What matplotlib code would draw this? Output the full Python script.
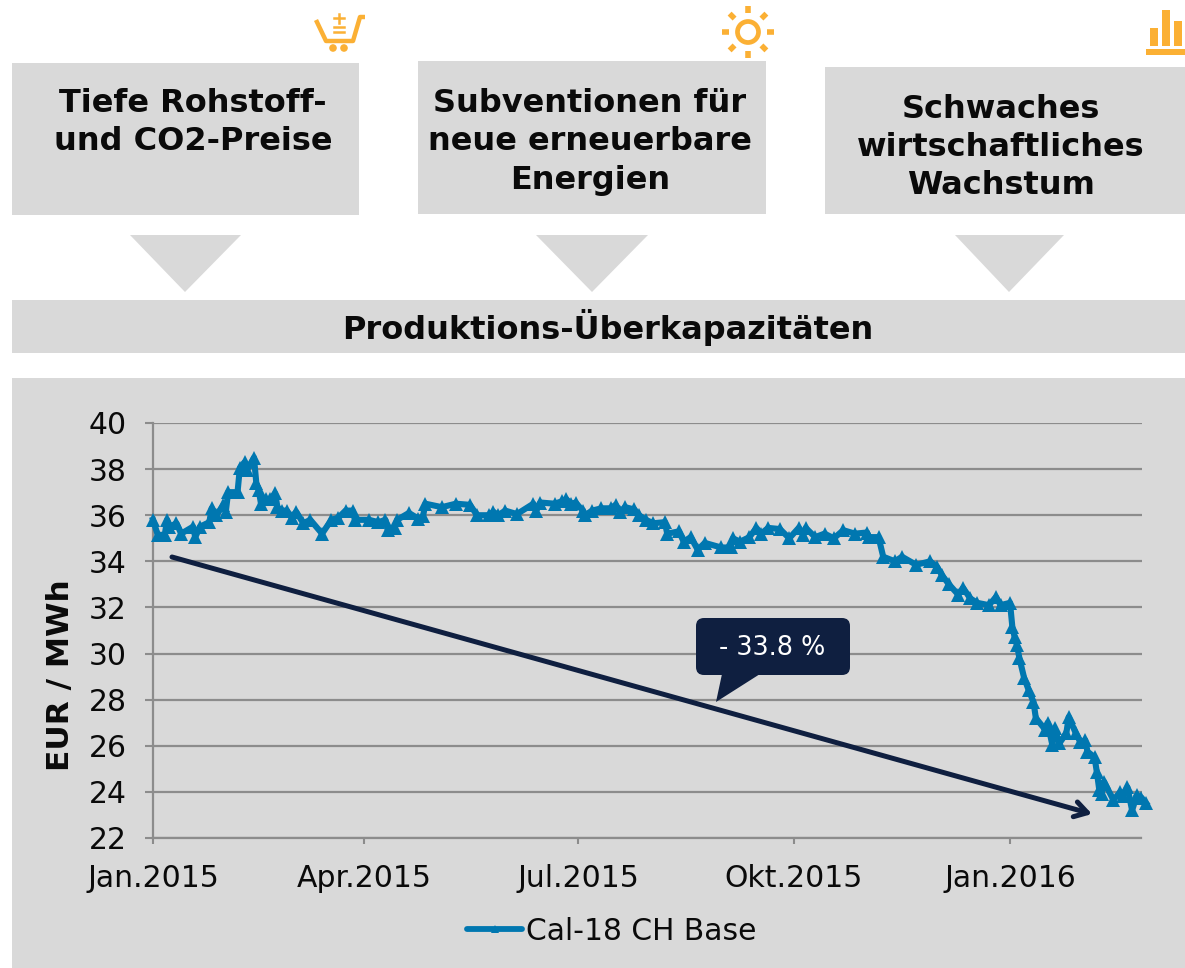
import matplotlib
matplotlib.use("Agg")
import matplotlib.pyplot as plt
import matplotlib.dates as mdates
import numpy as np
import pandas as pd
from matplotlib.patches import Rectangle, Polygon, Circle, FancyBboxPatch

# days since 1 Jan 2015
days = [0, 2, 5, 6, 7, 10, 12, 17, 18, 20, 24, 25, 27, 30, 31, 32, 36, 37, 39, 40,
        43, 44, 45, 46, 48, 50, 52, 53, 55, 57, 59, 61, 64, 67, 72, 76, 79, 82, 85, 86,
        92, 96, 99, 100, 103, 104, 109, 113, 115, 116, 123, 129, 135, 138, 143, 145, 147, 150, 155, 162,
        163, 165, 171, 174, 176, 178, 180, 183, 184, 187, 191, 195, 197, 199, 201, 205, 207, 210, 213, 218,
        219, 224, 226, 229, 232, 235, 242, 246, 247, 250, 254, 257, 259, 262, 267, 271, 275, 277, 278, 282,
        286, 290, 294, 299, 304, 305, 309, 311, 316, 319, 325, 331, 334, 336, 339, 343, 345, 348, 351, 356,
        359, 361, 365, 366, 367, 368, 369, 371, 373, 375, 376, 380, 381, 383, 384, 386, 389, 390, 393, 395,
        397, 398, 401, 402, 403, 404, 405, 409, 412, 413, 415, 417, 419, 421, 423]
prices = [35.8, 35.15, 35.15, 35.8, 35.5, 35.65, 35.2, 35.5, 35.05, 35.5, 35.7, 36.3, 36.0, 36.45, 36.15, 37.0, 37.0, 38.05, 38.3, 37.95,
          38.5, 37.4, 37.1, 36.5, 36.7, 36.7, 36.95, 36.35, 36.2, 36.2, 35.9, 36.15, 35.65, 35.8, 35.2, 35.8, 35.9, 36.2, 36.2, 35.8,
          35.8, 35.7, 35.8, 35.35, 35.45, 35.8, 36.1, 35.85, 35.95, 36.5, 36.35, 36.5, 36.45, 36.0, 36.0, 36.15, 36.0, 36.2, 36.05, 36.5,
          36.2, 36.55, 36.5, 36.6, 36.7, 36.5, 36.55, 36.2, 36.0, 36.2, 36.3, 36.3, 36.45, 36.15, 36.35, 36.25, 36.0, 35.8, 35.65, 35.7,
          35.2, 35.3, 34.85, 35.05, 34.5, 34.8, 34.6, 34.6, 35.0, 34.85, 35.05, 35.45, 35.2, 35.45, 35.4, 35.0, 35.45, 35.15, 35.45, 35.05,
          35.2, 35.0, 35.35, 35.2, 35.25, 35.05, 35.05, 34.2, 34.0, 34.2, 33.85, 34.0, 33.75, 33.4, 33.0, 32.55, 32.85, 32.4, 32.2, 32.1,
          32.45, 32.1, 32.2, 31.15, 30.7, 30.35, 29.8, 28.95, 28.4, 27.9, 27.2, 26.7, 27.0, 26.05, 26.75, 26.1, 26.55, 27.25, 26.55, 26.15,
          26.25, 25.75, 25.5, 24.85, 24.1, 23.9, 24.45, 23.65, 24.0, 23.8, 24.2, 23.2, 23.85, 23.75, 23.5]

tick_dates = ["2015-01-01", "2015-04-01", "2015-07-01", "2015-10-01", "2016-01-01"]
tick_labels = ["Jan.2015", "Apr.2015", "Jul.2015", "Okt.2015", "Jan.2016"]
y_ticks = [22, 24, 26, 28, 30, 32, 34, 36, 38, 40]

box_texts = [["Tiefe Rohstoff-", "und CO2-Preise"],
             ["Subventionen für", "neue erneuerbare", "Energien"],
             ["Schwaches", "wirtschaftliches", "Wachstum"]]

W, H = 1185, 968
GREY = "#d9d9d9"
BLUE = "#0077b0"
NAVY = "#0f1f40"
ORANGE = "#fbb034"
AXIS = "#8c8c8c"

plt.rcParams["font.family"] = "DejaVu Sans"
fig = plt.figure(figsize=(W / 100, H / 100), dpi=100)

# background layer in pixel coordinates
bg = fig.add_axes([0, 0, 1, 1], zorder=0)
bg.set_xlim(0, W)
bg.set_ylim(H, 0)
bg.axis("off")

boxes = [(12, 63, 347, 152), (418, 61, 348, 153), (825, 67, 360, 147)]
arrows = [(130, 241, 185), (536, 648, 592), (955, 1064, 1009)]
text_pos = [(193, [104, 142]), (590, [103, 142, 180]), (1001, [109, 147, 185])]
for (x, y, w, h), (a0, a1, tip), (cx, ys), lines in zip(boxes, arrows, text_pos, box_texts):
    bg.add_patch(Rectangle((x, y), w, h, color=GREY, lw=0))
    bg.add_patch(Polygon([(a0, 235), (a1, 235), (tip, 292)], color=GREY, lw=0))
    for yy, line in zip(ys, lines):
        bg.text(cx, yy, line, ha="center", va="center", fontsize=23, fontweight="bold", color="#0a0a0a")

bg.add_patch(Rectangle((12, 300), 1173, 53, color=GREY, lw=0))
bg.text(608, 327, "Produktions-Überkapazitäten", ha="center", va="center",
        fontsize=23, fontweight="bold", color="#0a0a0a")
bg.add_patch(Rectangle((12, 378), 1173, 590, color=GREY, lw=0))

# cart icon
bg.plot([316, 326, 353, 360, 365], [20, 41, 41, 17, 17], color=ORANGE, lw=3.2, solid_capstyle="butt")
bg.add_patch(Circle((333, 48), 3.8, color=ORANGE, lw=0))
bg.add_patch(Circle((344, 48), 3.8, color=ORANGE, lw=0))
bg.plot([334, 344], [18, 18], color=ORANGE, lw=1.8)
bg.plot([339, 339], [14, 23], color=ORANGE, lw=1.8)
bg.plot([334, 344], [27, 27], color=ORANGE, lw=1.8)
bg.plot([334, 344], [32, 32], color=ORANGE, lw=1.8)

# sun icon
bg.add_patch(Circle((748, 32), 10.5, fill=False, ec=ORANGE, lw=3.4))
for ang in np.deg2rad(np.arange(0, 360, 45)):
    bg.plot([748 + 19 * np.cos(ang), 748 + 26 * np.cos(ang)],
            [32 + 19 * np.sin(ang), 32 + 26 * np.sin(ang)],
            color=ORANGE, lw=4, solid_capstyle="butt")

# bars icon
for x0, y0 in [(1150, 28), (1162, 10), (1174, 21)]:
    bg.add_patch(Rectangle((x0, y0), 8, 46 - y0, color=ORANGE, lw=0))
bg.add_patch(Rectangle((1146, 49), 39, 6, color=ORANGE, lw=0))

# the chart itself
left, right, top, bottom = 153, 1141.5, 423, 838
ax = fig.add_axes([left / W, 1 - bottom / H, (right - left) / W, (bottom - top) / H], zorder=1)
ax.patch.set_alpha(0)

dates = pd.Timestamp("2015-01-01") + pd.to_timedelta(days, unit="D")
ax.plot(dates, prices, color=BLUE, lw=4.4, marker="^", ms=10, mew=0, clip_on=False,
        label="Cal-18 CH Base", zorder=3)

ax.set_xlim(pd.Timestamp("2015-01-01"), pd.Timestamp("2016-02-26"))
ax.set_ylim(22, 40)
ax.set_yticks(y_ticks)
ax.set_xticks(mdates.date2num(pd.to_datetime(tick_dates)))
ax.set_xticklabels(tick_labels)
ax.tick_params(axis="both", labelsize=21.5, color=AXIS, width=1.5, length=6, labelcolor="#0a0a0a")
ax.tick_params(axis="x", pad=15, length=4)
ax.tick_params(axis="y", pad=13)
ax.grid(axis="y", color=AXIS, lw=1.6)
ax.set_axisbelow(True)
for side in ["top", "right"]:
    ax.spines[side].set_visible(False)
for side in ["left", "bottom"]:
    ax.spines[side].set_color(AXIS)
    ax.spines[side].set_linewidth(1.6)
ax.set_ylabel("EUR / MWh", fontsize=22.5, fontweight="bold", color="#0a0a0a")
ax.yaxis.set_label_coords((75 - left) / (right - left), (bottom - 675) / (bottom - top))

handle = ax.plot([], [], color=BLUE, lw=4.2, marker="^", ms=6, mew=0, solid_capstyle="round")[0]
ax.legend([handle], ["Cal-18 CH Base"], loc="center", frameon=False, fontsize=21.4,
          bbox_to_anchor=(612 / W, 1 - 931 / H), bbox_transform=fig.transFigure,
          handlelength=1.85, handletextpad=0.15, labelcolor="#0a0a0a")

# trend arrow and callout on top
top_ax = fig.add_axes([0, 0, 1, 1], zorder=2)
top_ax.set_xlim(0, W)
top_ax.set_ylim(H, 0)
top_ax.axis("off")
top_ax.annotate("", xy=(1092, 814), xytext=(172, 557),
                arrowprops=dict(arrowstyle="->,head_length=0.9,head_width=0.55", color=NAVY,
                                lw=3.6, shrinkA=0, shrinkB=0))
top_ax.add_patch(FancyBboxPatch((696, 618), 154, 57, boxstyle="round,pad=0,rounding_size=8",
                                color=NAVY, lw=0))
top_ax.add_patch(Polygon([(722, 674), (760, 674), (716, 702)], color=NAVY, lw=0))
top_ax.text(772, 648, "- 33.8 %", ha="center", va="center", fontsize=18.4, color="white")

fig.savefig("out.png", dpi=100, facecolor="white")
plt.close(fig)
